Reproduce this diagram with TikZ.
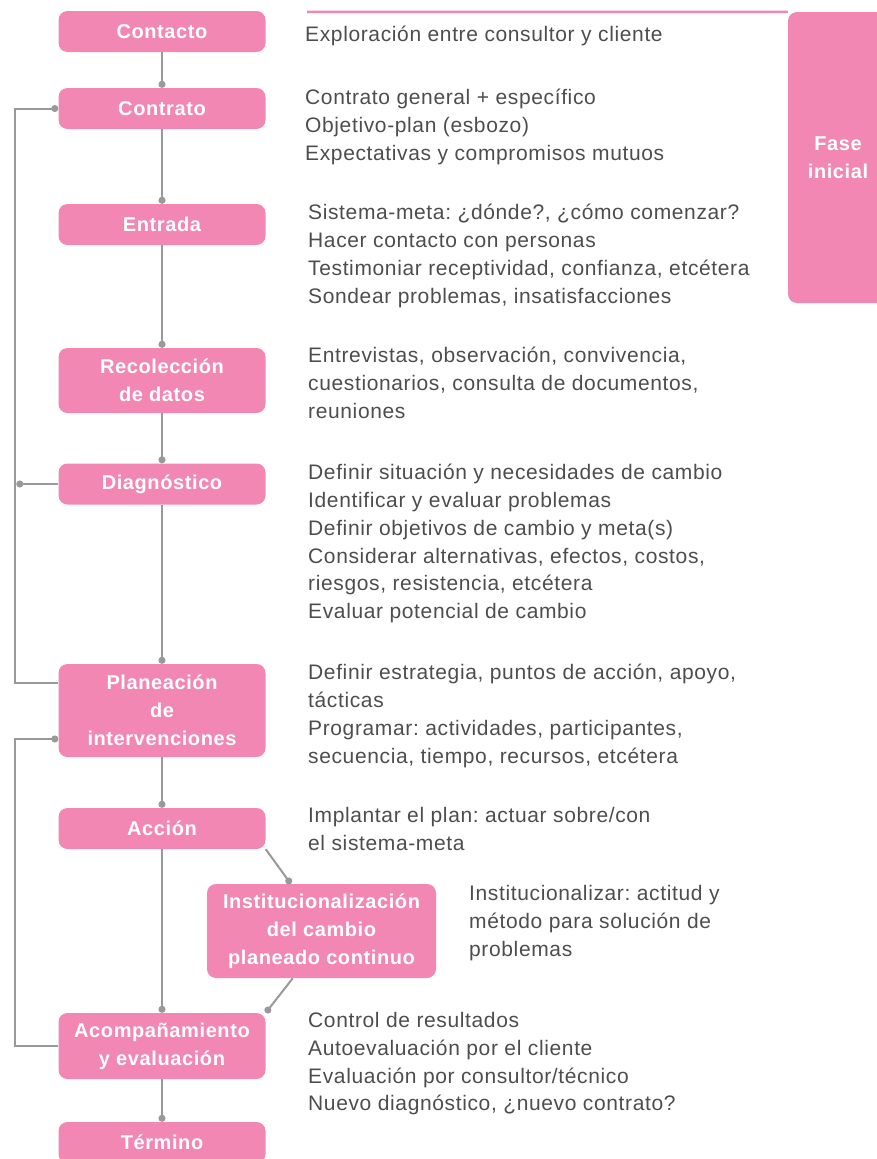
\documentclass[tikz,border=0pt]{standalone}
\usepackage{fontspec}
\setmainfont{Liberation Sans}[LetterSpace=3]
\usetikzlibrary{arrows.meta}
\definecolor{rosa}{RGB}{242,135,179}
\definecolor{linea}{RGB}{153,153,153}
\definecolor{texto}{RGB}{77,77,77}

\begin{document}
\begin{tikzpicture}[x=1pt,y=-1pt]
        \tikzset{
        etapa/.style={rectangle, rounded corners=9pt, fill=rosa, text=white,
        minimum width=207pt, minimum height=41pt, inner sep=0pt, align=center,
        font=\fontsize{20}{28}\selectfont\bfseries},
        desc/.style={anchor=north west, yshift=18pt, align=left, inner sep=0pt, text=texto,
        font=\fontsize{21}{27.8}\selectfont\frenchspacing, execute at begin node=\strut},
        c1/.style={draw=linea, line width=2pt, -{Circle[length=7pt]}},
        }
        \useasboundingbox (0,0) rectangle (877,1159);

        \node[etapa, minimum width=100pt, minimum height=291pt] (fase) at (838,157.5) {Fase\\inicial};
        \coordinate (r0) at (307,12);
        \draw[rosa, line width=2.5pt] (r0) -- (fase.north west);

        \node[etapa] (s1) at (162,31.5) {Contacto};
        \node[etapa] (s2) at (162,108.5) {Contrato};
        \node[etapa] (s3) at (162,224.5) {Entrada};
        \node[etapa, minimum height=65pt] (s4) at (162,380.5) {Recolección\\de datos};
        \node[etapa] (s5) at (162,484) {Diagnóstico};
        \node[etapa, minimum height=93pt] (s6) at (162,710.5) {Planeación\\de\\intervenciones};
        \node[etapa] (s7) at (162,828.5) {Acción};
        \node[etapa, minimum width=229pt, minimum height=94pt] (s8) at (321.5,931) {Institucionalización\\del cambio\\planeado continuo};
        \node[etapa, minimum height=66pt] (s9) at (162,1046) {Acompañamiento\\y evaluación};
        \node[etapa] (s10) at (162,1142.5) {Término};

        \node[desc] (d1) at (305,40) {Exploración entre consultor y cliente};
        \node[desc] (d2) at (305,107) {Contrato general + específico\\Objetivo-plan (esbozo)\\Expectativas y compromisos mutuos};
        \node[desc] (d3) at (308,222) {Sistema-meta: ¿dónde?, ¿cómo comenzar?\\Hacer contacto con personas\\Testimoniar receptividad, confianza, etcétera\\Sondear problemas, insatisfacciones};
        \node[desc] (d4) at (308,365) {Entrevistas, observación, convivencia,\\cuestionarios, consulta de documentos,\\reuniones};
        \node[desc] (d5) at (308,482) {Definir situación y necesidades de cambio\\Identificar y evaluar problemas\\Definir objetivos de cambio y meta(s)\\Considerar alternativas, efectos, costos,\\riesgos, resistencia, etcétera\\Evaluar potencial de cambio};
        \node[desc] (d6) at (308,682) {Definir estrategia, puntos de acción, apoyo,\\tácticas\\Programar: actividades, participantes,\\secuencia, tiempo, recursos, etcétera};
        \node[desc] (d7) at (308,825) {Implantar el plan: actuar sobre/con\\el sistema-meta};
        \node[desc] (d8) at (469,903) {Institucionalizar: actitud y\\método para solución de\\problemas};
        \node[desc] (d9) at (308,1030) {Control de resultados\\Autoevaluación por el cliente\\Evaluación por consultor/técnico\\Nuevo diagnóstico, ¿nuevo contrato?};

        \draw[c1] (s1) -- (s2);
        \draw[c1] (s2) -- (s3);
        \draw[c1] (s3) -- (s4);
        \draw[c1] (s4) -- (s5);
        \draw[c1] (s5) -- (s6);
        \draw[c1] (s6) -- (s7);
        \draw[c1] (s7) -- (s9);
        \draw[c1] (s9) -- (s10);
        \draw[c1] (s7.south east) -- ([xshift=84pt]s8.north west);
        \draw[c1] ([xshift=86pt]s8.south west) -- (s9.north east);
        \draw[c1] ([yshift=27.5pt]s6.west) -- ++(-43,0) |- (s2.west);
        \draw[c1] (s5.west) -- ++(-42,0);
        \draw[c1] (s9.west) -- ++(-43,0) |- ([yshift=-28.5pt]s6.west);
        \end{tikzpicture}
\end{document}
